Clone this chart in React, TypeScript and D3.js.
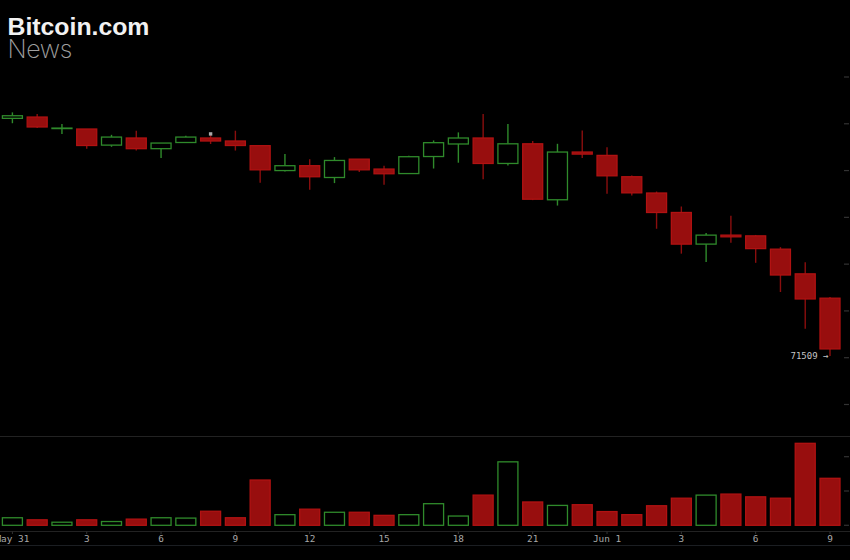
import React, { useEffect, useRef } from 'react';
import * as d3 from 'd3';

const open = [72779, 72786, 72726, 72722, 72636, 72674, 72617, 72650, 72674, 72658, 72633, 72500, 72526, 72463, 72561, 72508, 72484, 72575, 72642, 72674, 72538, 72643, 72344, 72599, 72581, 72467, 72380, 72276, 72107, 72155, 72151, 72080, 71948, 71818];
const close = [72793, 72733, 72727, 72634, 72679, 72617, 72647, 72679, 72658, 72634, 72504, 72526, 72467, 72554, 72504, 72483, 72574, 72649, 72674, 72538, 72643, 72347, 72599, 72588, 72472, 72381, 72276, 72107, 72155, 72146, 72083, 71942, 71814, 71547];
const high = [72811, 72802, 72749, 72722, 72691, 72713, 72647, 72686, 72691, 72713, 72633, 72588, 72561, 72572, 72561, 72526, 72579, 72661, 72704, 72802, 72749, 72658, 72643, 72714, 72624, 72474, 72388, 72308, 72166, 72258, 72156, 72091, 72010, 71825];
const low = [72753, 72727, 72695, 72617, 72627, 72607, 72567, 72647, 72642, 72607, 72435, 72495, 72397, 72433, 72492, 72424, 72484, 72511, 72542, 72454, 72527, 72342, 72313, 72567, 72376, 72367, 72189, 72056, 72012, 72114, 72007, 71851, 71655, 71509];
const volume = [22, 16, 9, 16, 11, 18, 22, 21, 41, 22, 132, 31, 47, 38, 38, 29, 31, 63, 27, 88, 185, 68, 58, 60, 40, 31, 57, 79, 88, 91, 83, 79, 239, 137];

const timeTicks = [0, 3, 6, 9, 12, 15, 18, 21, 24, 27, 30, 33];
const timeLabels = ['May 31', '3', '6', '9', '12', '15', '18', '21', 'Jun 1', '3', '6', '9'];
const priceTicks = [71250, 71500, 71750, 72000, 72250, 72500, 72750, 73000];
const volumeTicks = [0, 100, 200];

const GREEN = '#2f8a2b';
const RED = '#b01212';
const RED_FILL = '#980e0e';

export default function App() {
  const svgRef = useRef<SVGSVGElement>(null);

  useEffect(() => {
    document.body.style.margin = '0';
    document.body.style.background = '#000';
    const svg = d3.select(svgRef.current);
    svg.selectAll('*').remove();

    const x = d3.scaleLinear().domain([0, 33]).range([12.4, 830]);
    const y = d3.scaleLinear().domain([71500, 73000]).range([357.7, 77.0]);
    const yVol = d3.scaleLinear().domain([0, 100]).range([525.3, 491]);
    const bodyW = 20;

    // panel separators
    [436.5, 531.5, 545.5].forEach((ly, i) => {
      svg.append('line')
        .attr('x1', 0).attr('x2', 850).attr('y1', ly).attr('y2', ly)
        .attr('stroke', i === 2 ? '#1b1e22' : '#222').attr('stroke-width', 1.2);
    });

    // right side ticks
    priceTicks.forEach(t => {
      svg.append('line')
        .attr('x1', 844).attr('x2', 849).attr('y1', y(t)).attr('y2', y(t))
        .attr('stroke', '#333').attr('stroke-width', 1.2);
    });
    volumeTicks.forEach(t => {
      svg.append('line')
        .attr('x1', 844).attr('x2', 849).attr('y1', yVol(t)).attr('y2', yVol(t))
        .attr('stroke', '#333').attr('stroke-width', 1.2);
    });

    // candles
    const candles = svg.append('g');
    open.forEach((o, i) => {
      const c = close[i];
      const up = c >= o;
      const col = up ? GREEN : RED;
      const top = y(Math.max(o, c));
      const bot = y(Math.min(o, c));
      const cx = x(i);
      candles.append('line')
        .attr('x1', cx).attr('x2', cx).attr('y1', y(high[i])).attr('y2', top)
        .attr('stroke', up ? GREEN : '#8a0e0e').attr('stroke-width', 1.4);
      candles.append('line')
        .attr('x1', cx).attr('x2', cx).attr('y1', bot).attr('y2', y(low[i]))
        .attr('stroke', up ? GREEN : '#8a0e0e').attr('stroke-width', 1.4);
      candles.append('rect')
        .attr('x', cx - bodyW / 2).attr('y', top)
        .attr('width', bodyW).attr('height', Math.max(bot - top, 0.5))
        .attr('fill', up ? '#000' : RED_FILL)
        .attr('stroke', col).attr('stroke-width', 1.3);

      // volume
      svg.append('rect')
        .attr('x', cx - bodyW / 2).attr('y', yVol(volume[i]))
        .attr('width', bodyW).attr('height', yVol(0) - yVol(volume[i]))
        .attr('fill', up ? '#000' : RED_FILL)
        .attr('stroke', col).attr('stroke-width', 1.3);
    });

    // high marker on candle 8
    svg.append('rect')
      .attr('x', x(8) - 1.7).attr('y', y(72691) - 2.6)
      .attr('width', 3.4).attr('height', 3.4)
      .attr('fill', '#a8a8a8');

    // time axis
    const axis = svg.append('g');
    timeTicks.forEach((t, i) => {
      axis.append('line')
        .attr('x1', x(t)).attr('x2', x(t)).attr('y1', 531.5).attr('y2', 534)
        .attr('stroke', '#333');
      axis.append('text')
        .attr('x', x(t)).attr('y', 542)
        .attr('text-anchor', 'middle')
        .attr('font-family', '"DejaVu Sans Mono"')
        .attr('font-size', 9.4)
        .attr('fill', '#a8a8a8')
        .text(timeLabels[i]);
    });

    // last price label
    svg.append('text')
      .attr('x', 790.5).attr('y', y(71509) + 3.2)
      .attr('font-family', '"DejaVu Sans Mono"')
      .attr('font-size', 9)
      .attr('fill', '#c4c4c4')
      .text('71509 →');

    // logo
    svg.append('text')
      .attr('x', 7.5).attr('y', 34.5)
      .attr('font-family', '"Liberation Sans"')
      .attr('font-weight', 700)
      .attr('font-size', 24.8)
      .attr('fill', '#f2f2f2')
      .text('Bitcoin.com');
    svg.append('text')
      .attr('x', 7.5).attr('y', 58)
      .attr('font-family', 'Inter')
      .attr('font-weight', 200)
      .attr('font-size', 25)
      .attr('letter-spacing', -0.4)
      .attr('fill', '#a0a0a0')
      .text('News');
  }, []);

  return <svg ref={svgRef} width={850} height={560} style={{ display: 'block', background: '#000' }} />;
}
